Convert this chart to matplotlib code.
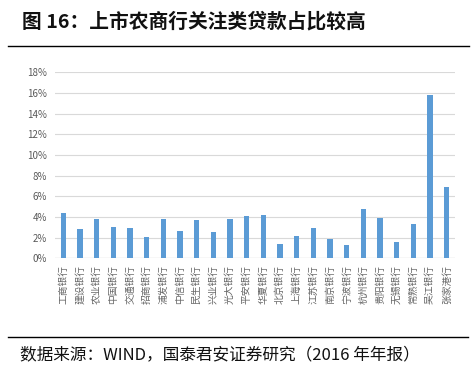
import matplotlib.pyplot as plt
from matplotlib.lines import Line2D

plt.rcParams['font.family'] = ['Noto Sans CJK SC', 'DejaVu Sans']

banks = ["工商银行", "建设银行", "农业银行", "中国银行", "交通银行", "招商银行",
         "浦发银行", "中信银行", "民生银行", "兴业银行", "光大银行", "平安银行",
         "华夏银行", "北京银行", "上海银行", "江苏银行", "南京银行", "宁波银行",
         "杭州银行", "贵阳银行", "无锡银行", "常熟银行", "吴江银行", "张家港行"]
ratio = [4.40, 2.83, 3.83, 3.05, 2.96, 2.03, 3.79, 2.60, 3.70, 2.57, 3.76, 4.05,
         4.15, 1.38, 2.12, 2.96, 1.86, 1.25, 4.76, 3.89, 1.54, 3.31, 15.82, 6.88]
y_ticks = [0, 2, 4, 6, 8, 10, 12, 14, 16, 18]

fig = plt.figure(figsize=(4.76, 3.76), dpi=100)
ax = fig.add_axes([0.1155, 0.313, 0.8405, 0.495])

x = list(range(len(banks)))
ax.bar(x, ratio, width=0.32, color="#5B9BD5", zorder=3)

ax.set_xlim(-0.5, len(banks) - 0.5)
ax.set_ylim(0, 18)
ax.set_yticks(y_ticks)
ax.set_yticklabels([f"{t}%" for t in y_ticks], fontsize=7, color="#595959")
ax.set_xticks(x)
ax.set_xticklabels(banks, rotation=90, fontsize=7, color="#666666")
ax.tick_params(axis="x", length=0, pad=5)
ax.tick_params(axis="y", length=0, pad=6)
ax.grid(axis="y", color="#D9D9D9", linewidth=0.8, zorder=0)
for s in ax.spines.values():
    s.set_visible(False)
ax.axhline(0, color="#D9D9D9", linewidth=0.9, zorder=2)

# title and footer
fig.text(0.046, 0.942, "图 16：上市农商行关注类贷款占比较高", fontsize=14.2,
         fontweight="bold", va="center", ha="left", color="#111111")
fig.add_artist(Line2D([0.017, 0.985], [0.878, 0.878], color="black", linewidth=1.0))
fig.add_artist(Line2D([0.017, 0.983], [0.104, 0.104], color="black", linewidth=1.0))
fig.text(0.042, 0.056, "数据来源：WIND，国泰君安证券研究（2016 年年报）", fontsize=12,
         va="center", ha="left", color="#111111")

fig.savefig("out.png", dpi=100)
